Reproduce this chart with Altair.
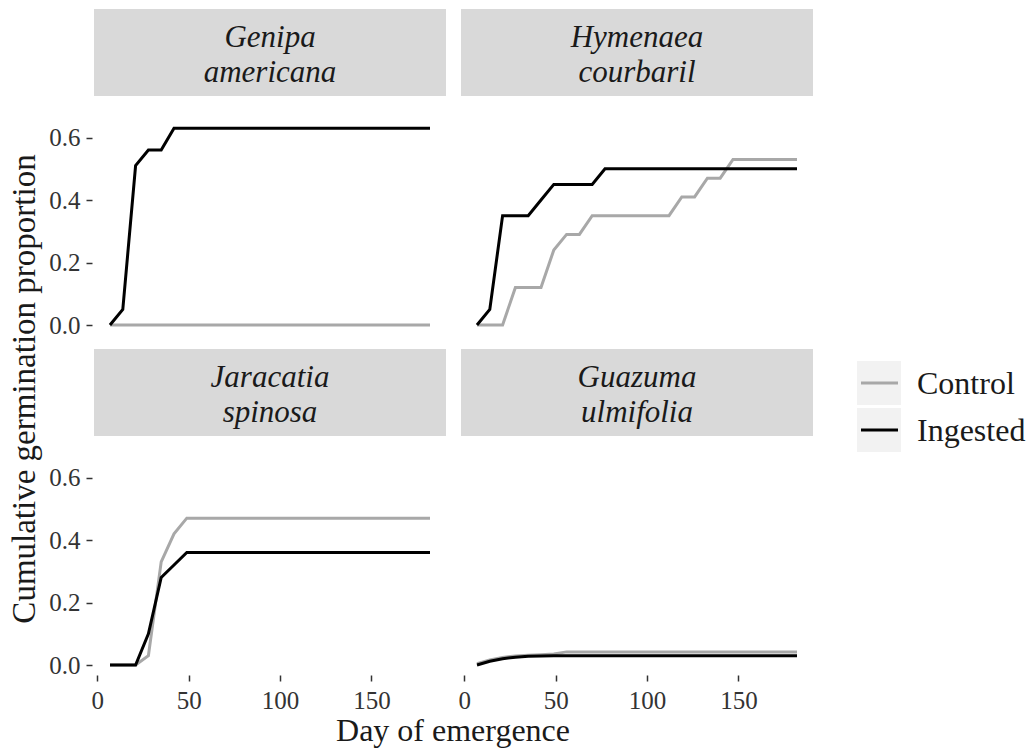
import altair as alt
import pandas as pd

# ---------------- data ----------------
days = [7, 14, 21, 28, 35, 42, 49, 56, 63, 70, 77, 84, 91, 98, 105, 112,
        119, 126, 133, 140, 147, 154, 161, 168, 175, 182]

species = ["Genipa americana", "Hymenaea courbaril", "Jaracatia spinosa", "Guazuma ulmifolia"]
strip_labels = ["Genipa\namericana", "Hymenaea\ncourbaril", "Jaracatia\nspinosa", "Guazuma\nulmifolia"]
treatments = ["Control", "Ingested"]

genipa_control = [0.00, 0.00, 0.00, 0.00, 0.00, 0.00, 0.00, 0.00, 0.00, 0.00, 0.00, 0.00, 0.00,
                  0.00, 0.00, 0.00, 0.00, 0.00, 0.00, 0.00, 0.00, 0.00, 0.00, 0.00, 0.00, 0.00]
genipa_ingested = [0.00, 0.05, 0.51, 0.56, 0.56, 0.63, 0.63, 0.63, 0.63, 0.63, 0.63, 0.63, 0.63,
                   0.63, 0.63, 0.63, 0.63, 0.63, 0.63, 0.63, 0.63, 0.63, 0.63, 0.63, 0.63, 0.63]
hymenaea_control = [0.00, 0.00, 0.00, 0.12, 0.12, 0.12, 0.24, 0.29, 0.29, 0.35, 0.35, 0.35, 0.35,
                    0.35, 0.35, 0.35, 0.41, 0.41, 0.47, 0.47, 0.53, 0.53, 0.53, 0.53, 0.53, 0.53]
hymenaea_ingested = [0.00, 0.05, 0.35, 0.35, 0.35, 0.40, 0.45, 0.45, 0.45, 0.45, 0.50, 0.50, 0.50,
                     0.50, 0.50, 0.50, 0.50, 0.50, 0.50, 0.50, 0.50, 0.50, 0.50, 0.50, 0.50, 0.50]
jaracatia_control = [0.00, 0.00, 0.00, 0.03, 0.33, 0.42, 0.47, 0.47, 0.47, 0.47, 0.47, 0.47, 0.47,
                     0.47, 0.47, 0.47, 0.47, 0.47, 0.47, 0.47, 0.47, 0.47, 0.47, 0.47, 0.47, 0.47]
jaracatia_ingested = [0.00, 0.00, 0.00, 0.10, 0.28, 0.32, 0.36, 0.36, 0.36, 0.36, 0.36, 0.36, 0.36,
                      0.36, 0.36, 0.36, 0.36, 0.36, 0.36, 0.36, 0.36, 0.36, 0.36, 0.36, 0.36, 0.36]
guazuma_control = [0.004, 0.016, 0.024, 0.029, 0.031, 0.033, 0.035, 0.042, 0.042, 0.042, 0.042,
                   0.042, 0.042, 0.042, 0.042, 0.042, 0.042, 0.042, 0.042, 0.042, 0.042, 0.042,
                   0.042, 0.042, 0.042, 0.042]
guazuma_ingested = [0.000, 0.012, 0.020, 0.025, 0.028, 0.029, 0.030, 0.030, 0.030, 0.030, 0.030,
                    0.030, 0.030, 0.030, 0.030, 0.030, 0.030, 0.030, 0.030, 0.030, 0.030, 0.030,
                    0.030, 0.030, 0.030, 0.030]

series = {
    "Genipa americana": {"Control": genipa_control, "Ingested": genipa_ingested},
    "Hymenaea courbaril": {"Control": hymenaea_control, "Ingested": hymenaea_ingested},
    "Jaracatia spinosa": {"Control": jaracatia_control, "Ingested": jaracatia_ingested},
    "Guazuma ulmifolia": {"Control": guazuma_control, "Ingested": guazuma_ingested},
}

rows = []
for sp in species:
    for tr in treatments:
        for d, v in zip(days, series[sp][tr]):
            rows.append({"species": sp, "treatment": tr, "day": d, "value": v})
df = pd.DataFrame(rows)

# ---------------- layout / style ----------------
FONT = "Liberation Serif"
W, H, SH = 352, 239, 87          # panel width, panel height, strip height
GAP_X, GAP_Y = 15, 14
OX, OY = 94, 9                   # origin of the first panel on the page
CANVAS_W, CANVAS_H = 1030, 749
TEXT = "#1A1A1A"
AXIS_TXT = "#333333"

BL = (OX, OY + SH + H + GAP_Y)
BR = (OX + W + GAP_X, OY + SH + H + GAP_Y)

color_scale = alt.Scale(domain=treatments, range=["#A8A8A8", "#000000"])
x_scale = alt.Scale(domain=[-1.75, 190.75], nice=False, zero=False)
y_scale = alt.Scale(domain=[-0.032, 0.733], nice=False, zero=False, range=[SH + H, SH])


def x_axis():
    return alt.Axis(values=[0, 50, 100, 150], title=None, tickSize=6, labelPadding=7,
                    domain=False, grid=False, labelFontSize=25, labelFont=FONT,
                    labelColor=AXIS_TXT, tickColor=AXIS_TXT, tickWidth=1.5, zindex=1)


def y_axis():
    return alt.Axis(values=[0, 0.2, 0.4, 0.6], format=".1f", title=None, tickSize=6,
                    labelPadding=6, offset=2, domain=False, grid=False, labelFontSize=25,
                    labelFont=FONT, labelColor=AXIS_TXT, tickColor=AXIS_TXT, tickWidth=1.5,
                    zindex=1)


one = pd.DataFrame({"k": [0]})

# invisible rectangle that fixes the page extent (1030 x 749)
page_bg = alt.Chart(one).mark_rect(color="white", opacity=0).encode(
    x=alt.value(-OX), x2=alt.value(CANVAS_W - OX),
    y=alt.value(-OY), y2=alt.value(CANVAS_H - OY - 1))

ytitle = alt.Chart(pd.DataFrame({"t": ["Cumulative germination proportion"]})).mark_text(
    font=FONT, fontSize=33, color=TEXT, baseline="alphabetic", align="center", angle=270).encode(
    x=alt.value(35 - BL[0]), y=alt.value(389 - BL[1]), text="t:N")
xtitle = alt.Chart(pd.DataFrame({"t": ["Day of emergence"]})).mark_text(
    font=FONT, fontSize=32, color=TEXT, baseline="alphabetic", align="center").encode(
    x=alt.value(453 - BL[0]), y=alt.value(741 - BL[1]), text="t:N")

KEY_X, KEY_TOP, KEY_SIZE, KEY_GAP = 857, 361, 44, 3
legend_layers = []
for k, tr in enumerate(treatments):
    tdf = pd.DataFrame({"treatment": [tr]})
    top = KEY_TOP + k * (KEY_SIZE + KEY_GAP) - BR[1]
    left = KEY_X - BR[0]
    legend_layers.append(alt.Chart(tdf).mark_rect(color="#F2F2F2").encode(
        x=alt.value(left), x2=alt.value(left + KEY_SIZE),
        y=alt.value(top), y2=alt.value(top + KEY_SIZE)))
    legend_layers.append(alt.Chart(tdf).mark_rule(strokeWidth=3).encode(
        x=alt.value(left + 4), x2=alt.value(left + KEY_SIZE - 3),
        y=alt.value(top + KEY_SIZE / 2),
        color=alt.Color("treatment:N", scale=color_scale, legend=None)))
    legend_layers.append(alt.Chart(tdf).mark_text(
        font=FONT, fontSize=32, color=TEXT, align="left", baseline="middle").encode(
        x=alt.value(left + 60), y=alt.value(top + KEY_SIZE / 2 + 1), text="treatment:N"))


def panel(i):
    sp = species[i]
    left = i % 2 == 0
    bottom = i >= 2
    sub = df[df["species"] == sp]
    lines = alt.Chart(sub).mark_line(strokeWidth=3).encode(
        x=alt.X("day:Q", scale=x_scale, axis=x_axis() if bottom else None),
        y=alt.Y("value:Q", scale=y_scale, axis=y_axis() if left else None),
        color=alt.Color("treatment:N", scale=color_scale, legend=None),
        order=alt.Order("day:Q"),
    )
    strip_df = pd.DataFrame({"label": [strip_labels[i]]})
    strip_bg = alt.Chart(strip_df).mark_rect(color="#D9D9D9").encode(
        x=alt.value(0), x2=alt.value(W), y=alt.value(0), y2=alt.value(SH))
    strip_txt = alt.Chart(strip_df).mark_text(
        font=FONT, fontSize=31, fontStyle="italic", color=TEXT, lineBreak="\n",
        baseline="alphabetic", align="center", lineHeight=35).encode(
        x=alt.value(W / 2), y=alt.value(38), text="label:N")
    layers = []
    if i == 0:
        layers.append(page_bg)
    layers += [strip_bg, strip_txt, lines]
    if i == 2:
        layers += [ytitle, xtitle]
    if i == 3:
        layers += legend_layers
    return alt.layer(*layers).properties(width=W, height=SH + H)


chart = alt.concat(
    *[panel(i) for i in range(4)], columns=2, spacing={"row": GAP_Y, "column": GAP_X},
    bounds="flush",
).resolve_scale(
    x="independent", y="independent"
).resolve_axis(
    x="independent", y="independent"
).properties(
    padding={"left": 0, "top": 0, "right": 0, "bottom": 0},
    background="white",
).configure_view(
    strokeWidth=0
).configure_axis(
    labelFont=FONT, labelFontSize=25, labelColor=AXIS_TXT
).configure_text(
    font=FONT
)

chart.save("out.html", embed_options={"renderer": "svg", "actions": False})
